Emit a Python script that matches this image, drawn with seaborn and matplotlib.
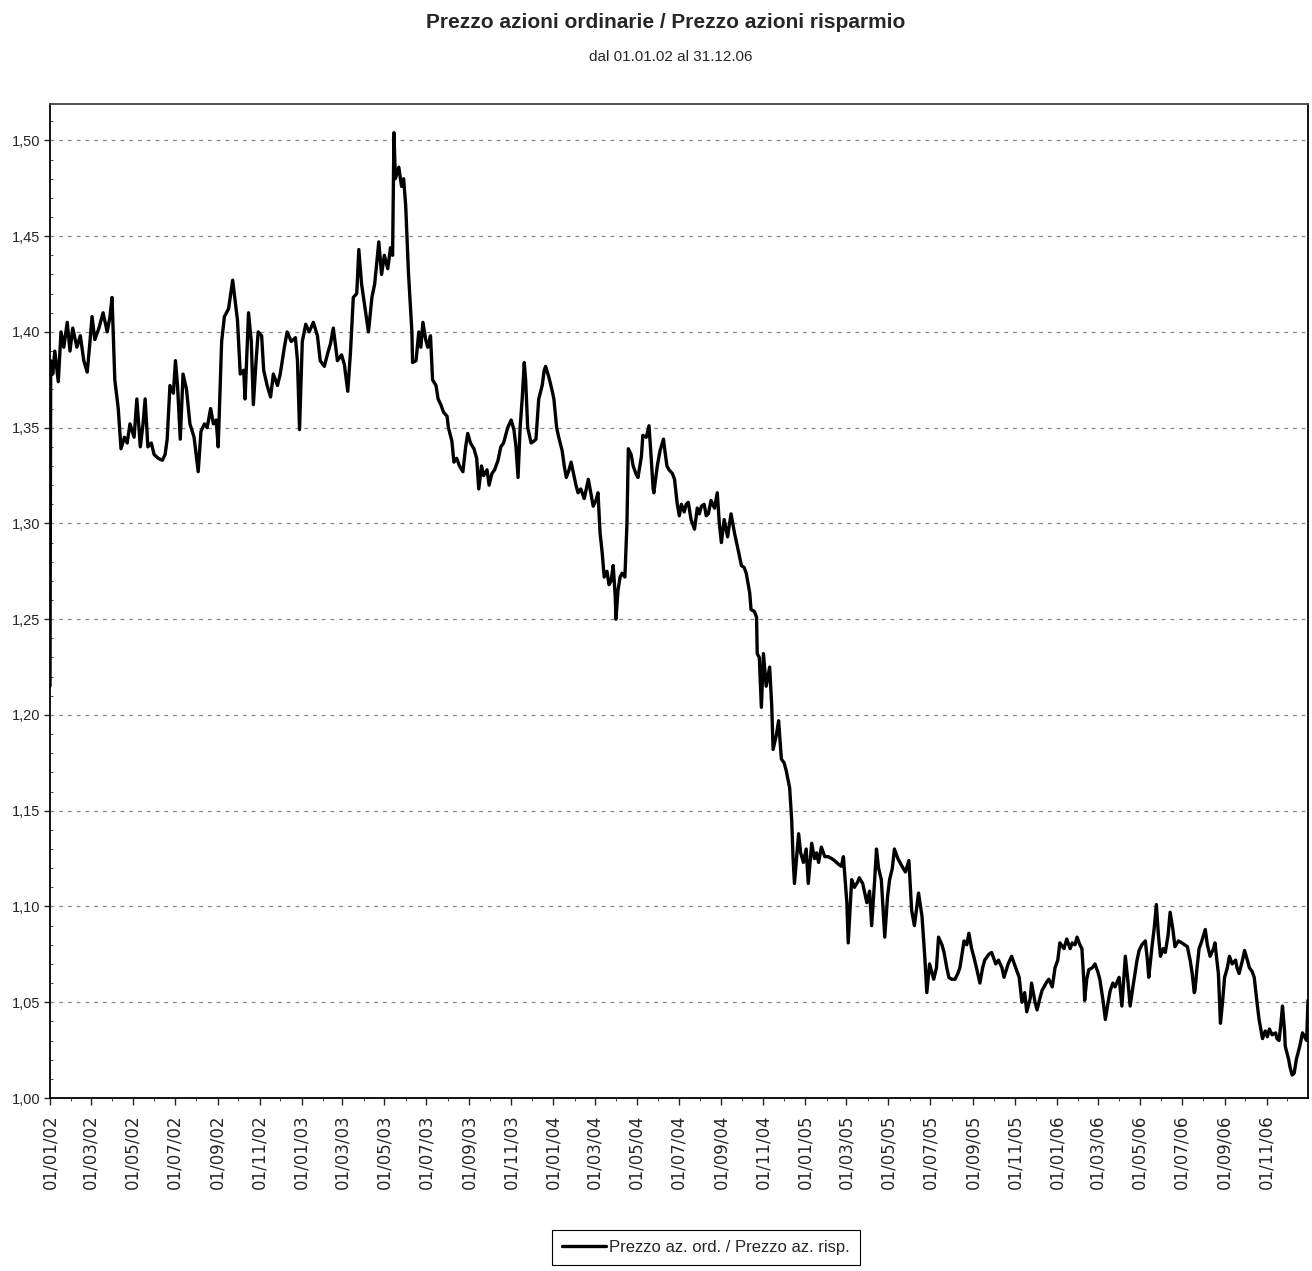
import pandas as pd
import numpy as np
import seaborn as sns
import matplotlib.pyplot as plt
import matplotlib.dates as mdates
from matplotlib.ticker import MultipleLocator, FuncFormatter

# giorni dal 01/01/2002 e rapporto prezzo ordinarie / risparmio
giorni = [0, 1, 4, 7, 12, 16, 20, 25, 29, 33, 39, 44, 49, 54, 58, 61, 65, 71, 77, 83,
          87, 90, 94, 99, 103, 108, 112, 116, 122, 126, 131, 135, 138, 142, 147, 151, 157, 163, 167, 170,
          174, 179, 182, 185, 189, 193, 198, 203, 209, 215, 219, 224, 228, 233, 237, 241, 244, 249, 253, 259,
          265, 269, 272, 276, 281, 283, 288, 292, 295, 299, 302, 307, 310, 315, 320, 324, 330, 334, 340, 344,
          350, 356, 359, 362, 366, 371, 376, 382, 388, 392, 398, 403, 407, 411, 417, 423, 427, 432, 436, 440,
          445, 448, 452, 456, 462, 467, 471, 477, 481, 485, 490, 494, 497, 499, 501, 506, 510, 513, 516, 520,
          525, 526, 531, 535, 538, 541, 545, 548, 552, 555, 560, 563, 567, 571, 576, 578, 583, 586, 590, 594,
          599, 603, 606, 610, 615, 619, 622, 626, 629, 634, 637, 641, 645, 650, 654, 658, 664, 669, 673, 676,
          679, 682, 685, 688, 690, 693, 698, 702, 705, 709, 714, 717, 719, 724, 728, 731, 735, 738, 743, 746,
          749, 753, 756, 760, 763, 766, 770, 775, 778, 781, 785, 788, 792, 795, 798, 801, 804, 808, 811, 814,
          817, 820, 821, 824, 827, 830, 834, 837, 839, 843, 846, 850, 853, 858, 860, 865, 869, 872, 875, 876,
          881, 885, 890, 892, 895, 898, 903, 906, 910, 913, 916, 920, 923, 926, 930, 935, 939, 942, 945, 949,
          952, 955, 959, 964, 968, 971, 974, 978, 983, 985, 988, 993, 996, 999, 1003, 1007, 1010, 1015, 1017, 1022,
          1025, 1026, 1029, 1032, 1035, 1039, 1044, 1047, 1049, 1054, 1057, 1061, 1065, 1068, 1073, 1076, 1078, 1080, 1083, 1086,
          1089, 1093, 1097, 1100, 1105, 1109, 1112, 1115, 1119, 1124, 1129, 1134, 1138, 1144, 1148, 1151, 1156, 1158, 1163, 1167,
          1172, 1174, 1179, 1185, 1189, 1192, 1196, 1199, 1202, 1206, 1211, 1215, 1218, 1222, 1225, 1230, 1236, 1241, 1246, 1250,
          1254, 1260, 1265, 1269, 1272, 1276, 1282, 1286, 1289, 1294, 1297, 1301, 1304, 1308, 1313, 1317, 1320, 1326, 1330, 1333,
          1337, 1340, 1344, 1349, 1353, 1356, 1362, 1366, 1372, 1376, 1381, 1384, 1390, 1395, 1401, 1406, 1410, 1414, 1417, 1422,
          1424, 1429, 1432, 1436, 1439, 1445, 1449, 1454, 1458, 1462, 1465, 1471, 1475, 1480, 1483, 1487, 1490, 1494, 1497, 1500,
          1501, 1504, 1507, 1512, 1516, 1520, 1523, 1528, 1531, 1535, 1538, 1542, 1545, 1551, 1555, 1560, 1564, 1567, 1571, 1574,
          1577, 1580, 1584, 1589, 1592, 1594, 1599, 1602, 1605, 1608, 1611, 1615, 1618, 1622, 1625, 1629, 1632, 1637, 1642, 1646,
          1650, 1654, 1657, 1660, 1661, 1664, 1667, 1671, 1676, 1679, 1683, 1688, 1690, 1695, 1698, 1701, 1704, 1708, 1711, 1715,
          1720, 1722, 1725, 1730, 1733, 1737, 1740, 1744, 1747, 1751, 1754, 1759, 1763, 1766, 1769, 1773, 1778, 1780, 1783, 1786,
          1788, 1791, 1792, 1797, 1799, 1802, 1805, 1808, 1813, 1817, 1820, 1823, 1825]

rapporto = [1.215, 1.385, 1.378, 1.390, 1.374, 1.400, 1.392, 1.405, 1.390, 1.402, 1.392, 1.398, 1.385, 1.379, 1.395, 1.408, 1.396, 1.402, 1.410, 1.400,
            1.408, 1.418, 1.375, 1.360, 1.339, 1.345, 1.342, 1.352, 1.345, 1.365, 1.340, 1.352, 1.365, 1.340, 1.342, 1.336, 1.334, 1.333, 1.336, 1.344,
            1.372, 1.368, 1.385, 1.372, 1.344, 1.378, 1.370, 1.352, 1.345, 1.327, 1.348, 1.352, 1.350, 1.360, 1.352, 1.354, 1.340, 1.395, 1.408, 1.412,
            1.427, 1.415, 1.406, 1.378, 1.380, 1.365, 1.410, 1.395, 1.362, 1.385, 1.400, 1.398, 1.380, 1.372, 1.366, 1.378, 1.372, 1.378, 1.392, 1.400,
            1.395, 1.397, 1.385, 1.349, 1.395, 1.404, 1.400, 1.405, 1.398, 1.385, 1.382, 1.389, 1.394, 1.402, 1.385, 1.388, 1.383, 1.369, 1.390, 1.418,
            1.420, 1.443, 1.425, 1.415, 1.400, 1.418, 1.425, 1.447, 1.430, 1.440, 1.433, 1.444, 1.440, 1.504, 1.480, 1.486, 1.476, 1.480, 1.466, 1.431,
            1.400, 1.384, 1.385, 1.400, 1.392, 1.405, 1.396, 1.392, 1.398, 1.375, 1.372, 1.365, 1.362, 1.358, 1.356, 1.350, 1.343, 1.332, 1.334, 1.330,
            1.327, 1.340, 1.347, 1.342, 1.339, 1.334, 1.318, 1.330, 1.325, 1.328, 1.320, 1.326, 1.328, 1.333, 1.340, 1.342, 1.350, 1.354, 1.349, 1.340,
            1.324, 1.350, 1.365, 1.384, 1.375, 1.350, 1.342, 1.343, 1.344, 1.365, 1.372, 1.380, 1.382, 1.376, 1.370, 1.365, 1.350, 1.345, 1.338, 1.330,
            1.324, 1.328, 1.332, 1.325, 1.320, 1.316, 1.318, 1.313, 1.318, 1.323, 1.315, 1.309, 1.312, 1.316, 1.295, 1.285, 1.272, 1.275, 1.268, 1.270,
            1.278, 1.262, 1.250, 1.265, 1.272, 1.274, 1.272, 1.300, 1.339, 1.336, 1.330, 1.326, 1.324, 1.335, 1.346, 1.345, 1.351, 1.335, 1.318, 1.316,
            1.330, 1.338, 1.344, 1.338, 1.330, 1.328, 1.326, 1.323, 1.310, 1.304, 1.310, 1.306, 1.310, 1.311, 1.302, 1.297, 1.308, 1.305, 1.309, 1.310,
            1.304, 1.305, 1.312, 1.308, 1.316, 1.300, 1.290, 1.302, 1.293, 1.298, 1.305, 1.295, 1.290, 1.285, 1.278, 1.277, 1.274, 1.264, 1.255, 1.254,
            1.251, 1.232, 1.230, 1.204, 1.232, 1.215, 1.225, 1.205, 1.182, 1.190, 1.197, 1.177, 1.175, 1.171, 1.162, 1.145, 1.125, 1.112, 1.125, 1.138,
            1.128, 1.123, 1.130, 1.112, 1.133, 1.125, 1.128, 1.123, 1.131, 1.126, 1.126, 1.125, 1.124, 1.122, 1.121, 1.126, 1.102, 1.081, 1.114, 1.110,
            1.113, 1.115, 1.112, 1.102, 1.108, 1.090, 1.112, 1.130, 1.120, 1.114, 1.084, 1.105, 1.114, 1.120, 1.130, 1.125, 1.121, 1.118, 1.124, 1.098,
            1.090, 1.107, 1.095, 1.074, 1.055, 1.070, 1.062, 1.068, 1.084, 1.080, 1.076, 1.068, 1.063, 1.062, 1.062, 1.065, 1.068, 1.082, 1.080, 1.086,
            1.078, 1.074, 1.068, 1.060, 1.068, 1.072, 1.075, 1.076, 1.070, 1.072, 1.068, 1.063, 1.070, 1.074, 1.068, 1.063, 1.050, 1.055, 1.045, 1.052,
            1.060, 1.050, 1.046, 1.052, 1.056, 1.060, 1.062, 1.058, 1.068, 1.072, 1.081, 1.078, 1.083, 1.078, 1.081, 1.080, 1.084, 1.080, 1.078, 1.060,
            1.051, 1.062, 1.067, 1.068, 1.070, 1.066, 1.062, 1.050, 1.041, 1.050, 1.056, 1.060, 1.058, 1.063, 1.048, 1.074, 1.060, 1.048, 1.058, 1.065,
            1.072, 1.077, 1.080, 1.082, 1.072, 1.063, 1.080, 1.089, 1.101, 1.085, 1.074, 1.078, 1.076, 1.085, 1.097, 1.088, 1.079, 1.082, 1.081, 1.080,
            1.079, 1.072, 1.065, 1.055, 1.056, 1.068, 1.078, 1.082, 1.088, 1.080, 1.074, 1.078, 1.081, 1.065, 1.039, 1.050, 1.063, 1.068, 1.074, 1.070,
            1.072, 1.068, 1.065, 1.072, 1.077, 1.072, 1.068, 1.066, 1.063, 1.050, 1.041, 1.031, 1.035, 1.032, 1.036, 1.033, 1.034, 1.031, 1.030, 1.040,
            1.048, 1.035, 1.027, 1.020, 1.016, 1.012, 1.013, 1.020, 1.027, 1.034, 1.032, 1.030, 1.051]

titolo = "Prezzo azioni ordinarie / Prezzo azioni risparmio"
sottotitolo = "dal 01.01.02 al 31.12.06"
etichetta = "Prezzo az. ord. / Prezzo az. risp."

df = pd.DataFrame({
    "data": pd.Timestamp("2002-01-01") + pd.to_timedelta(giorni, unit="D"),
    "rapporto": rapporto,
})

sns.set_style("white")
plt.rcParams["font.family"] = ["Liberation Sans", "DejaVu Sans"]

fig = plt.figure(figsize=(13.12, 12.71), dpi=100)
ax = fig.add_axes([50 / 1312, 1 - 1098 / 1271, 1258 / 1312, 994 / 1271])

sns.lineplot(data=df, x="data", y="rapporto", color="black", linewidth=2.4,
             label=etichetta, ax=ax, estimator=None)

ax.set_ylim(1.0, 1.519)
ax.set_xlim(pd.Timestamp("2002-01-01"), pd.Timestamp("2006-12-31"))
ax.yaxis.set_major_locator(MultipleLocator(0.05))
ax.yaxis.set_minor_locator(MultipleLocator(0.01))
ax.yaxis.set_major_formatter(FuncFormatter(lambda v, p: f"{v:.2f}".replace(".", ",")))
ax.xaxis.set_major_locator(mdates.MonthLocator(bymonth=[1, 3, 5, 7, 9, 11], bymonthday=1))
ax.xaxis.set_minor_locator(mdates.MonthLocator(bymonthday=1))
ax.xaxis.set_major_formatter(mdates.DateFormatter("%d/%m/%y"))

ax.grid(axis="y", which="major", color="#8a8a8a", linestyle=(0, (3, 4)), linewidth=0.9)
ax.grid(axis="x", visible=False)
ax.set_xlabel("")
ax.set_ylabel("")

ax.tick_params(axis="y", which="major", direction="out", length=4, width=1, labelsize=10.5, pad=3, left=True)
ax.tick_params(axis="y", which="minor", direction="in", length=2, width=0.6, left=True)
ax.tick_params(axis="x", which="major", direction="out", length=5, width=1, pad=7, bottom=True)
ax.tick_params(axis="x", which="minor", direction="out", length=2, width=0.6, bottom=True)
for lab in ax.get_xticklabels():
    lab.set_rotation(90)
    lab.set_fontfamily("DejaVu Sans")
    lab.set_fontsize(12)
    lab.set_va("top")
    lab.set_ha("center")

for s in ax.spines.values():
    s.set_color("black")
    s.set_linewidth(1.3)
ax.spines["top"].set_color("#444444")

fig.text(666 / 1312, 1 - 22 / 1271, titolo, ha="center", va="center", fontsize=15, fontweight="bold")
fig.text(671 / 1312, 1 - 57 / 1271, sottotitolo, ha="center", va="center", fontsize=11)

ax.legend(loc="upper center", bbox_to_anchor=(706 / 1312, 1 - 1230 / 1271),
          bbox_transform=fig.transFigure, frameon=True, fancybox=False,
          edgecolor="black", fontsize=12, handlelength=2.6, borderpad=0.6,
          borderaxespad=0, handletextpad=0.2, framealpha=1)
ax.get_legend().get_frame().set_linewidth(0.8)

fig.savefig("out.png", dpi=100, facecolor="white")
